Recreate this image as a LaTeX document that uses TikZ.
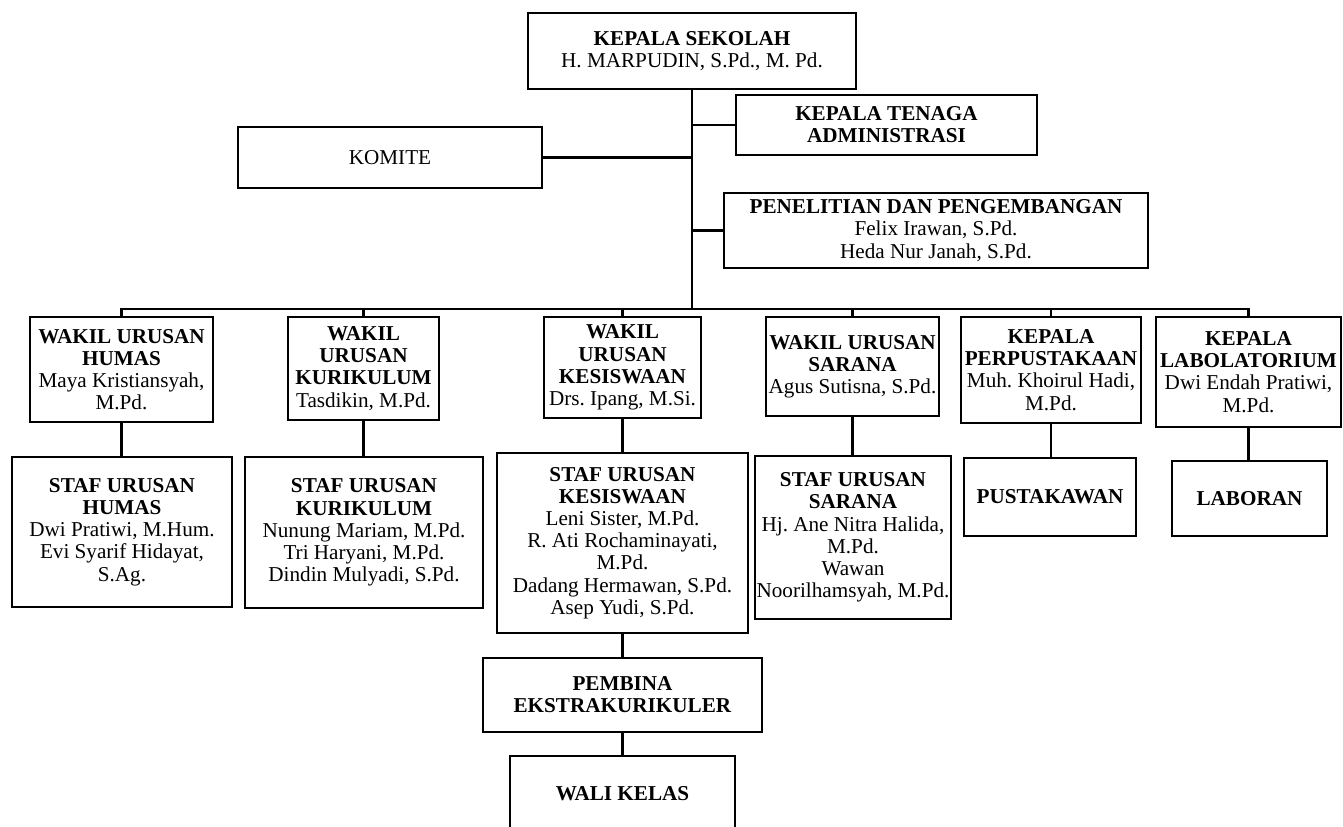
\documentclass[tikz,border=0pt]{standalone}
\usepackage{fontspec}
\setmainfont{Liberation Serif}
\usetikzlibrary{positioning}
\frenchspacing

\begin{document}
\begin{tikzpicture}[x=0.6pt, y=-0.6pt]
	\tikzstyle{org} = [draw, line width=1.6pt, align=center, inner sep=1pt, font=\fontsize{12.7}{13.3}\selectfont\frenchspacing]
	\tikzstyle{link} = [line width=1.4pt]
	\tikzset{boxsize/.style 2 args={minimum width=#1*0.6pt, minimum height=#2*0.6pt}}

	\useasboundingbox (0,0) rectangle (1343,827);
	\clip (0,0) rectangle (1343,827);

	% top
	\node[org, boxsize={328}{76}] (kepsek) at (692,51) {\textbf{KEPALA SEKOLAH}\\H. MARPUDIN, S.Pd., M. Pd.};
	\node[org, boxsize={301}{60}] (admin) at (886.5,125) {\textbf{KEPALA TENAGA}\\\textbf{ADMINISTRASI}};
	\node[org, boxsize={304}{61}] (komite) at (390,157.5) {KOMITE};
	\node[org, boxsize={424}{75}] (litbang) at (936,230.5) {\textbf{PENELITIAN DAN PENGEMBANGAN}\\Felix Irawan, S.Pd.\\Heda Nur Janah, S.Pd.};
	\coordinate (bus) at (692,309);

	% wakil
	\node[org, boxsize={183}{105}] (whumas) at (121.5,369.5) {\textbf{WAKIL URUSAN}\\\textbf{HUMAS}\\Maya Kristiansyah,\\M.Pd.};
	\node[org, boxsize={151}{103}] (wkurikulum) at (363.5,368.5) {\textbf{WAKIL}\\\textbf{URUSAN}\\\textbf{KURIKULUM}\\Tasdikin, M.Pd.};
	\node[org, boxsize={157}{101}] (wkesiswaan) at (622.5,367.5) {\textbf{WAKIL}\\\textbf{URUSAN}\\\textbf{KESISWAAN}\\Drs. Ipang, M.Si.};
	\node[org, boxsize={173}{99}] (wsarana) at (852.5,366.5) {\textbf{WAKIL URUSAN}\\\textbf{SARANA}\\Agus Sutisna, S.Pd.};
	\node[org, boxsize={180}{106}] (kpustaka) at (1051,370) {\textbf{KEPALA}\\\textbf{PERPUSTAKAAN}\\Muh. Khoirul Hadi,\\M.Pd.};
	\node[org, boxsize={185}{110}] (klab) at (1248.5,372) {\textbf{KEPALA}\\\textbf{LABOLATORIUM}\\Dwi Endah Pratiwi,\\M.Pd.};

	% staf
	\node[org, boxsize={220}{150}] (shumas) at (122,532) {\textbf{STAF URUSAN}\\\textbf{HUMAS}\\Dwi Pratiwi, M.Hum.\\Evi Syarif Hidayat,\\S.Ag.};
	\node[org, boxsize={238}{151}] (skurikulum) at (364,532.5) {\textbf{STAF URUSAN}\\\textbf{KURIKULUM}\\Nunung Mariam, M.Pd.\\Tri Haryani, M.Pd.\\Dindin Mulyadi, S.Pd.};
	\node[org, boxsize={251}{180}] (skesiswaan) at (622.5,543) {\textbf{STAF URUSAN}\\\textbf{KESISWAAN}\\Leni Sister, M.Pd.\\R. Ati Rochaminayati,\\M.Pd.\\Dadang Hermawan, S.Pd.\\Asep Yudi, S.Pd.};
	\node[org, boxsize={196}{163}] (ssarana) at (853,537.5) {\textbf{STAF URUSAN}\\\textbf{SARANA}\\Hj. Ane Nitra Halida,\\M.Pd.\\Wawan\\Noorilhamsyah, M.Pd.};
	\node[org, boxsize={172}{78}] (pustakawan) at (1050,497) {\textbf{PUSTAKAWAN}};
	\node[org, boxsize={155}{75}] (laboran) at (1249.5,498.5) {\textbf{LABORAN}};

	% bawah
	\node[org, boxsize={279}{74}] (pembina) at (622.5,695) {\textbf{PEMBINA}\\\textbf{EKSTRAKURIKULER}};
	\node[org, boxsize={225}{76}] (walikelas) at (622.5,794) {\textbf{WALI KELAS}};

	% garis
	\draw[link] (kepsek.south) -- (bus);
	\draw[link] (bus |- admin.west) -- (admin.west);
	\draw[link] (komite.east) -- (komite.east -| bus);
	\draw[link] (bus |- litbang.west) -- (litbang.west);
	\draw[link] (whumas.north) -- (whumas.north |- bus) -- (klab.north |- bus) -- (klab.north);
	\foreach \w in {wkurikulum, wkesiswaan, wsarana, kpustaka}
		\draw[link] (\w.north) -- (\w.north |- bus);
	\foreach \a/\b in {whumas/shumas, wkurikulum/skurikulum, wkesiswaan/skesiswaan, wsarana/ssarana, kpustaka/pustakawan, klab/laboran, skesiswaan/pembina, pembina/walikelas}
		\draw[link] (\a.south) -- (\a.south |- \b.north);
\end{tikzpicture}
\end{document}
